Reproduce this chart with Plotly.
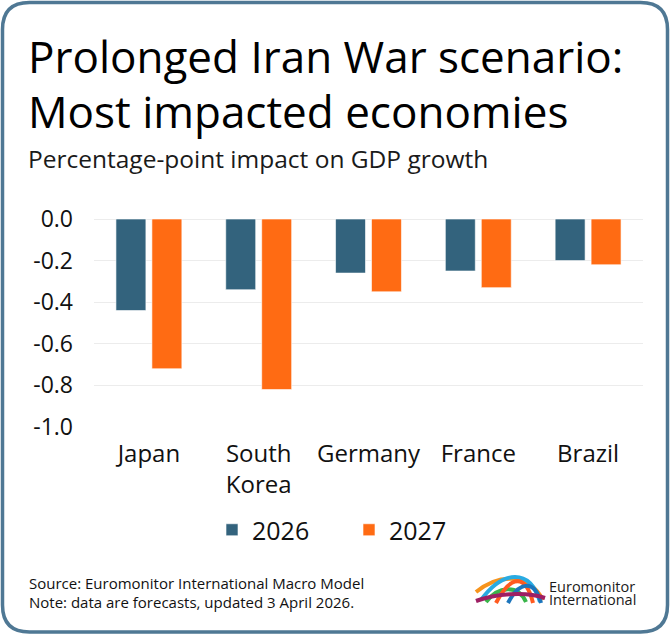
import plotly.graph_objects as go

# Data
countries = ["Japan", "South<br>Korea", "Germany", "France", "Brazil"]
impact_2026 = [-0.44, -0.34, -0.26, -0.25, -0.20]
impact_2027 = [-0.72, -0.82, -0.35, -0.33, -0.22]
y_ticks = [0.0, -0.2, -0.4, -0.6, -0.8, -1.0]

TEAL = "#33637d"
ORANGE = "#ff6b13"
FONT = "'Open Sans', Lato, sans-serif"

# page geometry (pixels) -> paper coordinates
W, H = 670, 635
ML, MR, MT, MB = 94, 27, 219, 208
PW, PH = W - ML - MR, H - MT - MB


def px(x):
    return (x - ML) / PW


def py(y):
    return (H - MB - y) / PH


fig = go.Figure()
fig.add_trace(go.Bar(
    x=countries, y=impact_2026, name="2026",
    marker=dict(color=TEAL, line=dict(color="rgba(255,255,255,0.6)", width=1)),
))
fig.add_trace(go.Bar(
    x=countries, y=impact_2027, name="2027",
    marker=dict(color=ORANGE, line=dict(color="rgba(255,255,255,0.6)", width=1)),
))

# rounded border
L, R, T, B, r = 2.5, 667.5, 2.5, 632, 27
border = (
    f"M {px(L + r)},{py(T)} L {px(R - r)},{py(T)} "
    f"Q {px(R)},{py(T)} {px(R)},{py(T + r)} L {px(R)},{py(B - r)} "
    f"Q {px(R)},{py(B)} {px(R - r)},{py(B)} L {px(L + r)},{py(B)} "
    f"Q {px(L)},{py(B)} {px(L)},{py(B - r)} L {px(L)},{py(T + r)} "
    f"Q {px(L)},{py(T)} {px(L + r)},{py(T)} Z"
)
shapes = [dict(type="path", xref="paper", yref="paper", path=border,
               line=dict(color="#4f7894", width=3.5), layer="below")]

# logo ribbons (rough)
ribbons = [
    ("#f7941d", [(476, 592), (498, 574), (528, 572), (543, 600)]),
    ("#29abe2", [(481, 600), (503, 570), (530, 568), (540, 602)]),
    ("#39b54a", [(486, 602), (498, 586), (518, 584), (526, 602)]),
    ("#ff5a1f", [(496, 603), (511, 574), (526, 574), (533, 603)]),
    ("#1c75bc", [(508, 603), (520, 580), (535, 580), (541, 603)]),
    ("#9e1f63", [(476, 601), (495, 594), (525, 591), (545, 598)]),
]
for col, pts in ribbons:
    (x0, y0), (x1, y1), (x2, y2), (x3, y3) = pts
    shapes.append(dict(
        type="path", xref="paper", yref="paper",
        path=f"M {px(x0)},{py(y0)} C {px(x1)},{py(y1)} {px(x2)},{py(y2)} {px(x3)},{py(y3)}",
        line=dict(color=col, width=4),
    ))


def note(text, x, y, size, color="#111111", anchor="left"):
    return dict(text=text, xref="paper", yref="paper", x=px(x), y=py(y),
                xanchor=anchor, yanchor="middle", showarrow=False,
                font=dict(family=FONT, size=size, color=color))


annotations = [
    note("Prolonged Iran War scenario:", 26, 56, 44, color="#000000"),
    note("Most impacted economies", 26, 111, 44, color="#000000"),
    note("Percentage-point impact on GDP growth", 26, 158, 24.5, color="#1a1a1a"),
    note("Source: Euromonitor International Macro Model", 27, 583, 15),
    note("Note: data are forecasts, updated 3 April 2026.", 27, 602, 15),
    note("Euromonitor", 547, 586, 14.5, color="#1a1a1a"),
    note("International", 547, 599, 14.5, color="#1a1a1a"),
]

fig.update_layout(
    width=W, height=H,
    margin=dict(l=ML, r=MR, t=MT, b=MB),
    paper_bgcolor="white", plot_bgcolor="white",
    font=dict(family=FONT, color="#111111"),
    barmode="group", bargap=0.345, bargroupgap=0.167,
    showlegend=True,
    legend=dict(
        orientation="h", x=px(212), y=py(530), xanchor="left", yanchor="middle",
        font=dict(size=25, color="#111111"), entrywidth=92,
        bgcolor="rgba(0,0,0,0)",
    ),
    xaxis=dict(
        showgrid=False, showline=False, ticks="", tickfont=dict(size=24),
        ticklabelstandoff=10,
    ),
    yaxis=dict(
        range=[-1.0, 0.0], tickvals=y_ticks,
        ticktext=[f"{v:.1f}" for v in y_ticks],
        showgrid=True, gridcolor="#ececec", gridwidth=1,
        zeroline=True, zerolinecolor="#ececec", zerolinewidth=1,
        tickfont=dict(size=23), ticks="", ticklabelstandoff=20,
    ),
    shapes=shapes,
    annotations=annotations,
)

fig.write_html(
    "out.html",
    config={"displayModeBar": False},
    post_script="document.body.style.margin='0';",
)
